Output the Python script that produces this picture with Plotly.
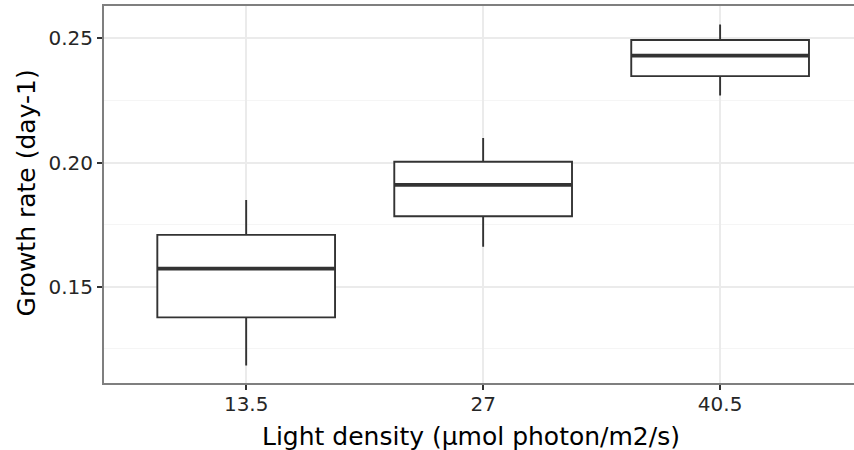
import plotly.graph_objects as go

categories = ["13.5", "27", "40.5"]
lower_whisker = [0.1183, 0.1661, 0.2270]
q1 = [0.1377, 0.1784, 0.2348]
median = [0.1573, 0.1910, 0.2430]
q3 = [0.1709, 0.2003, 0.2493]
upper_whisker = [0.1849, 0.2099, 0.2556]
y_ticks = [0.15, 0.20, 0.25]
y_tick_labels = ["0.15", "0.20", "0.25"]
x_title = "Light density (µmol photon/m2/s)"
y_title = "Growth rate (day-1)"

FONT = "DejaVu Sans"
fig = go.Figure()
fig.add_trace(go.Box(
    x=categories, q1=q1, median=median, q3=q3,
    lowerfence=lower_whisker, upperfence=upper_whisker,
    width=0.75, whiskerwidth=0, fillcolor="white",
    line=dict(color="#333333", width=1.9),
    boxpoints=False, showlegend=False, hoverinfo="skip",
))
# thicker median line as in ggplot (line-ew length = 1.4 * size)
fig.add_trace(go.Scatter(
    x=categories, y=median, mode="markers",
    marker=dict(symbol="line-ew", size=126.5, line=dict(color="#333333", width=3.8)),
    showlegend=False, hoverinfo="skip",
))

fig.update_layout(
    width=854, height=450,
    margin=dict(l=104, r=0, t=6, b=67),
    plot_bgcolor="white", paper_bgcolor="white",
    font=dict(family=FONT, size=20, color="#262626"),
    xaxis=dict(
        type="category", range=[-0.6, 2.565],
        showgrid=True, gridcolor="#ebebeb", gridwidth=1.5,
        showline=True, linecolor="#7f7f7f", linewidth=2, mirror=True,
        ticks="outside", ticklen=5, tickcolor="#333333", tickwidth=1.5,
        ticklabelstandoff=-3,
        tickfont=dict(family=FONT, size=20, color="#262626"),
        zeroline=False,
    ),
    yaxis=dict(
        range=[0.1113, 0.2630],
        tickvals=y_ticks, ticktext=y_tick_labels,
        showgrid=True, gridcolor="#ebebeb", gridwidth=1.5,
        minor=dict(showgrid=True, gridcolor="#f5f5f5", gridwidth=1, dtick=0.025, tick0=0.125),
        showline=True, linecolor="#7f7f7f", linewidth=2,
        ticks="outside", ticklen=5, tickcolor="#333333", tickwidth=1.5,
        tickfont=dict(family=FONT, size=20, color="#262626"),
        zeroline=False,
    ),
    annotations=[
        dict(text=x_title, xref="paper", yref="paper", x=0.4893, y=-0.143,
             xanchor="center", yanchor="middle", showarrow=False,
             font=dict(family=FONT, size=25, color="black")),
        dict(text=y_title, xref="paper", yref="paper", x=-0.104, y=0.5027,
             xanchor="center", yanchor="middle", showarrow=False, textangle=-90,
             font=dict(family=FONT, size=25, color="black")),
    ],
)
fig.write_html("out.html")
